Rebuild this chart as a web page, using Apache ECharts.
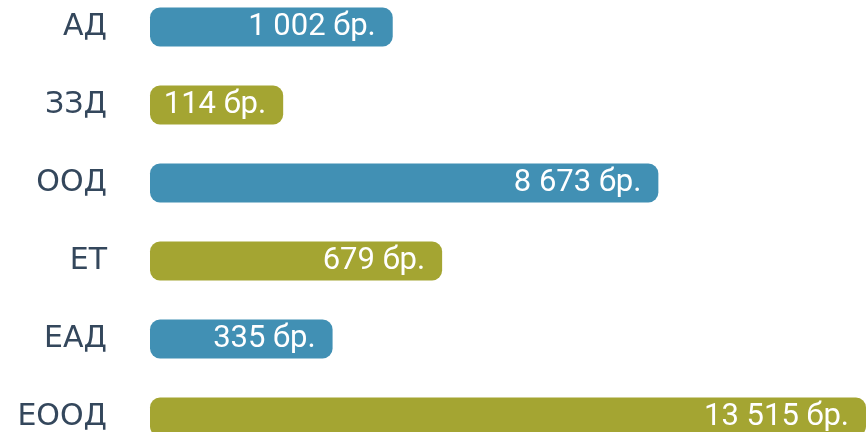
<!DOCTYPE html>
<html>
<head>
<meta charset="utf-8">
<script src="https://cdn.jsdelivr.net/npm/echarts@6/dist/echarts.min.js"></script>
<style>
  html,body{margin:0;padding:0;background:#fff;}
  #main{width:866px;height:432px;}
</style>
</head>
<body>
<div id="main"></div>
<script>
// форми на фирмите, отгоре надолу
var categories=['АД','ЗЗД','ООД','ЕТ','ЕАД','ЕООД'];
// брой (текстът в лентите)
var counts=[1002,114,8673,679,335,13515];
// дължина на лентата, в % от най-дългата (отчетено от картинката)
var barLength=[33.9,18.6,71,40.8,25.5,100];
var barColors=['#4190b4','#a4a532','#4190b4','#a4a532','#4190b4','#a4a532'];

function fmt(n){
    return String(n).replace(/\B(?=(\d{3})+(?!\d))/g,' ')+' бр.';
}

var seriesData=[];
for(var i=0;i<categories.length;i++){
    seriesData.push({
        value:barLength[i],
        count:counts[i],
        itemStyle:{color:barColors[i]}
    });
}

var myChart=echarts.init(document.getElementById('main'));
var option={
    animation:false,
    grid:{left:150,right:0,top:-12,height:468,outerBoundsMode:'none',containLabel:false},
    xAxis:{
        type:'value',
        min:0,
        max:100,
        show:false
    },
    yAxis:{
        type:'category',
        inverse:true,
        data:categories,
        axisLine:{show:false},
        axisTick:{show:false},
        axisLabel:{
            margin:43,
            fontFamily:'DejaVu Sans',
            fontSize:30,
            color:'#34475c'
        }
    },
    series:[{
        type:'bar',
        barWidth:39,
        data:seriesData,
        itemStyle:{borderRadius:10},
        label:{
            show:true,
            position:'insideRight',
            distance:17,
            fontFamily:'Roboto',
            fontSize:31,
            color:'#ffffff',
            formatter:function(p){return fmt(p.data.count);}
        }
    }]
};
myChart.setOption(option);
</script>
</body>
</html>
